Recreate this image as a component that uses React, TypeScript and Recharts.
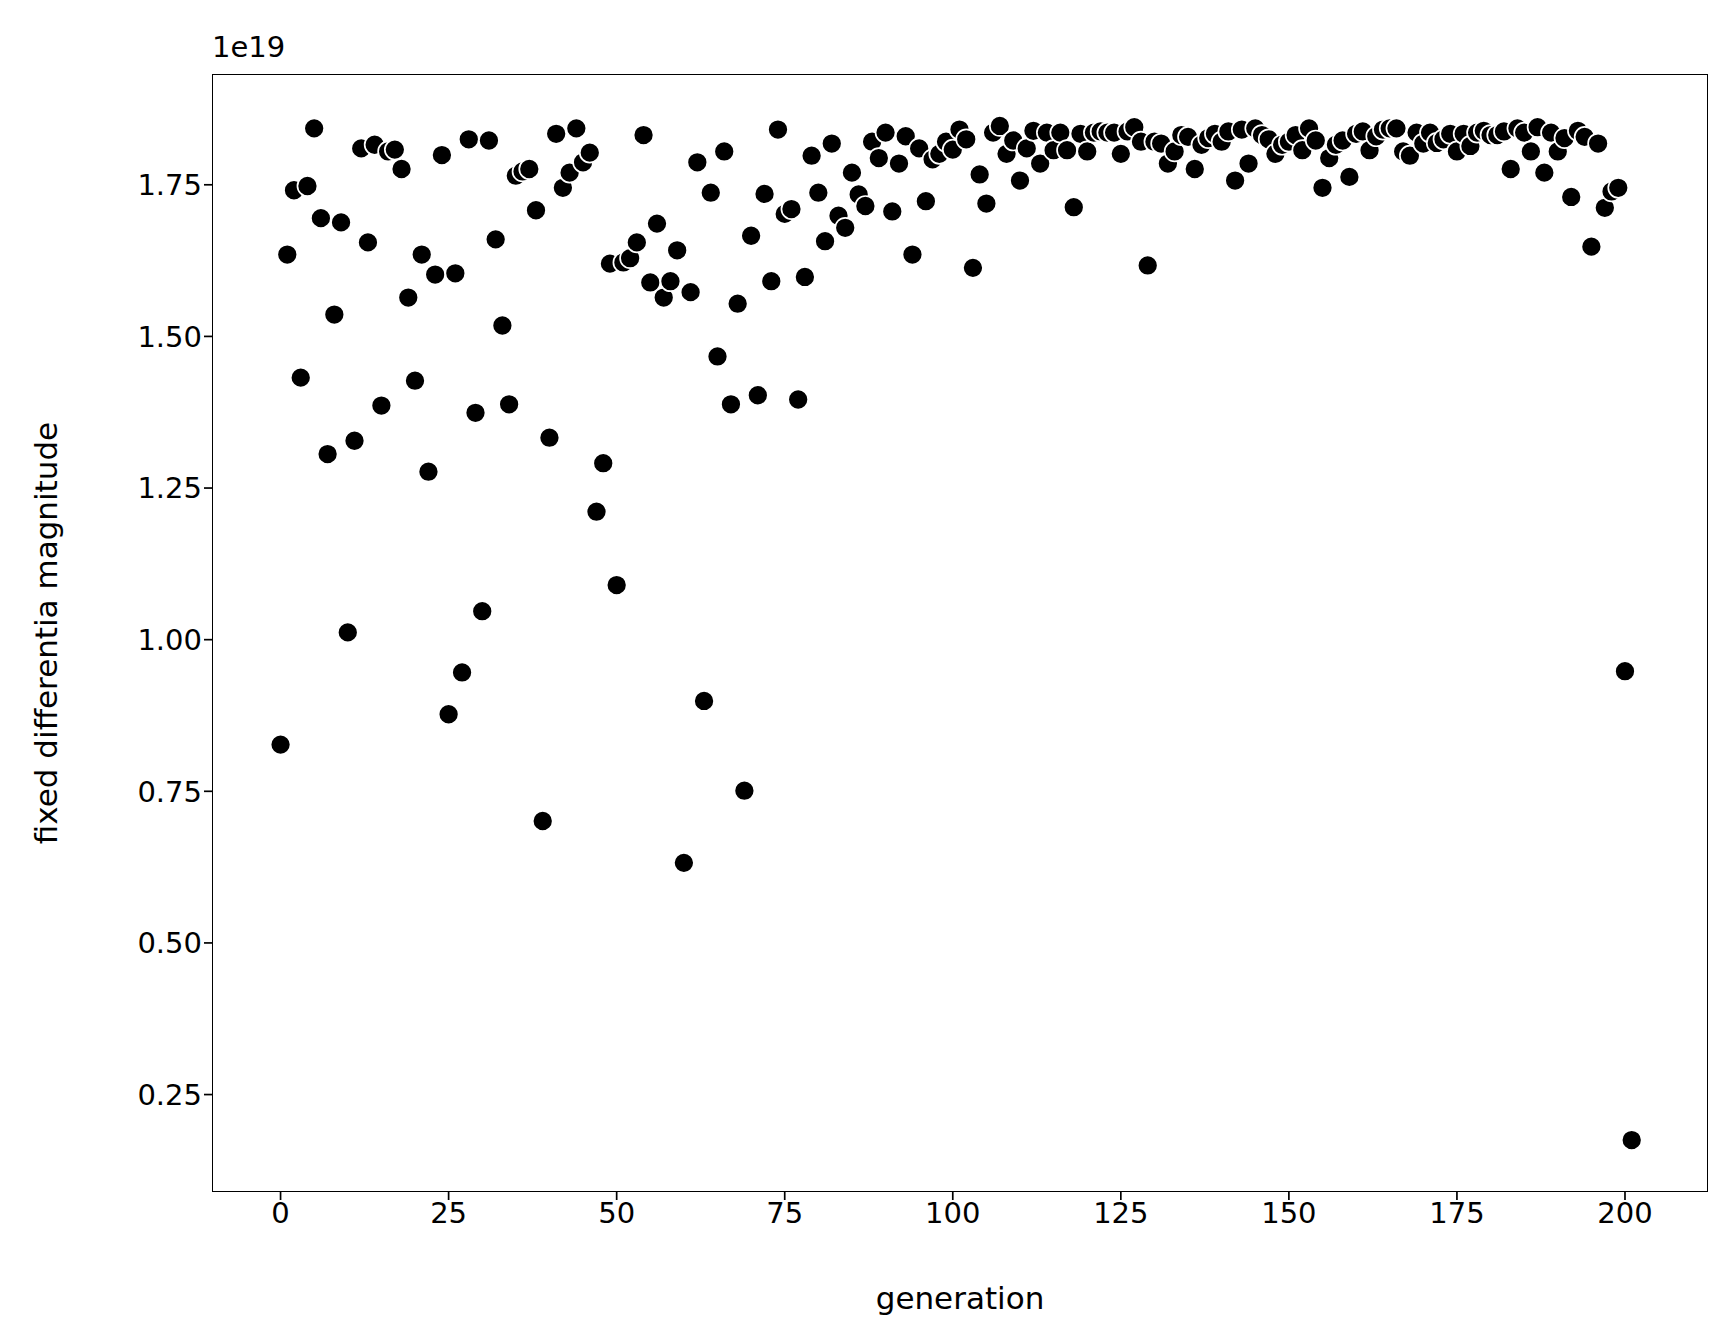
import React from 'react'
import { ScatterChart, Scatter, XAxis, YAxis } from 'recharts'

// fixed differentia magnitude per generation, in units of 1e19
const magnitudes: number[] = [
  0.827, 1.635, 1.741, 1.432, 1.748, 1.843, 1.695, 1.306, 1.536, 1.688,
  1.012, 1.328, 1.810, 1.655, 1.816, 1.386, 1.805, 1.808, 1.776, 1.564,
  1.427, 1.635, 1.277, 1.602, 1.799, 0.877, 1.604, 0.946, 1.825, 1.374,
  1.047, 1.823, 1.660, 1.518, 1.388, 1.765, 1.772, 1.776, 1.708, 0.701,
  1.333, 1.834, 1.745, 1.770, 1.843, 1.787, 1.803, 1.211, 1.291, 1.620,
  1.090, 1.622, 1.629, 1.655, 1.832, 1.589, 1.686, 1.564, 1.591, 1.642,
  0.632, 1.573, 1.787, 0.899, 1.737, 1.467, 1.805, 1.388, 1.554, 0.751,
  1.666, 1.403, 1.735, 1.591, 1.841, 1.702, 1.710, 1.396, 1.598, 1.798,
  1.737, 1.657, 1.818, 1.699, 1.679, 1.770, 1.734, 1.715, 1.821, 1.794,
  1.836, 1.706, 1.785, 1.830, 1.635, 1.810, 1.723, 1.792, 1.801, 1.821,
  1.808, 1.841, 1.825, 1.613, 1.767, 1.719, 1.836, 1.847, 1.801, 1.823,
  1.757, 1.810, 1.839, 1.785, 1.836, 1.807, 1.836, 1.807, 1.713, 1.834,
  1.805, 1.836, 1.838, 1.836, 1.836, 1.801, 1.838, 1.845, 1.821, 1.617,
  1.821, 1.818, 1.785, 1.805, 1.832, 1.829, 1.776, 1.816, 1.827, 1.834,
  1.821, 1.838, 1.757, 1.841, 1.785, 1.843, 1.832, 1.825, 1.801, 1.816,
  1.821, 1.832, 1.807, 1.843, 1.823, 1.745, 1.794, 1.816, 1.823, 1.763,
  1.834, 1.838, 1.807, 1.830, 1.841, 1.843, 1.843, 1.805, 1.798, 1.836,
  1.818, 1.836, 1.819, 1.825, 1.834, 1.805, 1.834, 1.814, 1.836, 1.839,
  1.832, 1.832, 1.838, 1.776, 1.843, 1.836, 1.805, 1.845, 1.770, 1.836,
  1.805, 1.827, 1.730, 1.839, 1.829, 1.648, 1.818, 1.712, 1.739, 1.745,
  0.948, 0.175,
]

const xTicks = [0, 25, 50, 75, 100, 125, 150, 175, 200]
const yTicks = [0.25, 0.5, 0.75, 1.0, 1.25, 1.5, 1.75]

const data = magnitudes.map((v, i) => ({ generation: i, magnitude: v }))

const font = 'DejaVu Sans'
const tickStyle = { fontSize: 29, fill: '#000', fontFamily: font }

const Dot = (props: any) => (
  <circle cx={props.cx} cy={props.cy} r={10} fill="#000" stroke="#fff" strokeWidth={1.7} />
)

export default function App() {
  return (
    <div style={{ position: 'absolute', left: 0, top: 0, width: 1728, height: 1344, background: '#fff', fontFamily: font }}>
      <ScatterChart width={1728} height={1344} margin={{ top: 75, right: 21, bottom: 93, left: 93 }}>
        <XAxis
          type="number"
          dataKey="generation"
          domain={[-10.05, 212.2]}
          ticks={xTicks}
          allowDataOverflow
          height={60}
          tick={tickStyle}
          tickSize={9}
          tickLine={{ stroke: '#000', strokeWidth: 1.7 }}
          axisLine={false}
        />
        <YAxis
          type="number"
          dataKey="magnitude"
          domain={[0.091, 1.931]}
          ticks={yTicks}
          allowDataOverflow
          width={120}
          tick={tickStyle}
          tickSize={9}
          tickFormatter={(v: number) => v.toFixed(2)}
          tickLine={{ stroke: '#000', strokeWidth: 1.7 }}
          axisLine={false}
        />
        <Scatter data={data} shape={Dot} isAnimationActive={false} />
      </ScatterChart>
      <div style={{ position: 'absolute', left: 212, top: 74, width: 1494, height: 1116, border: '1.7px solid #000', pointerEvents: 'none' }} />
      <div style={{ position: 'absolute', left: 212, top: 30, fontSize: 29 }}>1e19</div>
      <div style={{ position: 'absolute', left: 960, top: 1298, transform: 'translate(-50%, -50%)', fontSize: 31, whiteSpace: 'nowrap' }}>generation</div>
      <div style={{ position: 'absolute', left: 46, top: 633, transform: 'translate(-50%, -50%) rotate(-90deg)', fontSize: 31, whiteSpace: 'nowrap' }}>fixed differentia magnitude</div>
    </div>
  )
}
